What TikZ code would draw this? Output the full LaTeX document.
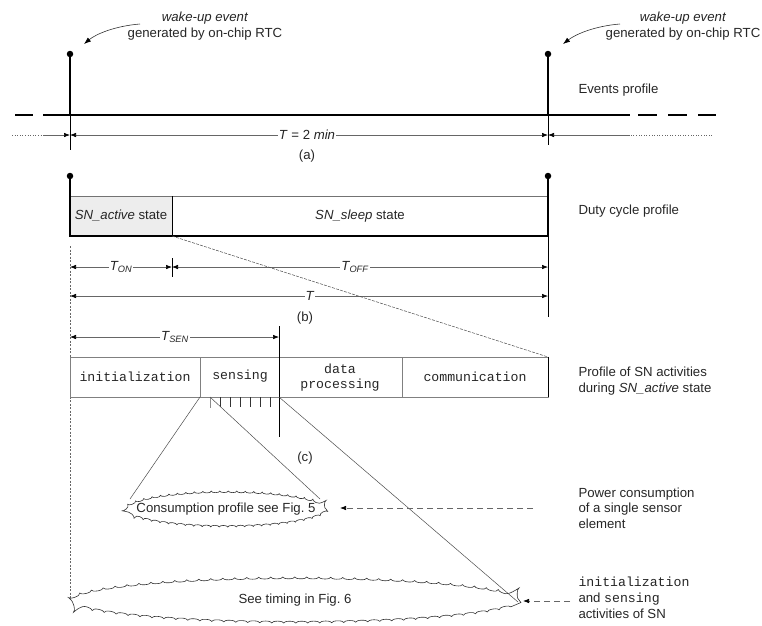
\documentclass[tikz,border=0pt]{standalone}
\usepackage{fontspec}
\setmainfont{Liberation Sans}
\newfontfamily\cour{Liberation Mono}
\usetikzlibrary{arrows.meta,shapes.geometric,decorations.pathmorphing}
\begin{document}
\begin{tikzpicture}[x=1pt,y=-1pt,
  font=\fontsize{13.2}{15.5}\selectfont,
  every node/.style={text=black!85},
  thickline/.style={line width=1.8pt, black},
  evdot/.style={circle, fill=black, inner sep=0pt, minimum size=6.5pt},
  dimline/.style={black!60, line width=0.6pt},
  tip/.style={-{Latex[length=6pt,width=4.5pt,color=black]}},
  tips/.style={{Latex[length=6pt,width=4.5pt,color=black]}-{Latex[length=6pt,width=4.5pt,color=black]}},
  lbl/.style={fill=white, inner sep=1pt},
  side/.style={anchor=west, align=left},
  thinline/.style={black!70, line width=0.5pt},
  fdash/.style={black!70, line width=0.5pt, dash pattern=on 3pt off 1.2pt},
  blob/.style={ellipse, draw=black!80, line width=0.6pt, inner sep=0pt, decorate, decoration={bumps, segment length=17pt, amplitude=1.6pt}},
  profbox/.style={draw=black!50, line width=0.8pt}
]
\useasboundingbox (0,0) rectangle (762,625);

% ---------- (a) events profile ----------
\node[evdot] (e1) at (70,54) {};
\node[evdot] (e2) at (548,54) {};
\coordinate (e1b) at (70,115);
\coordinate (e2b) at (548,115);
\draw[thickline] (e1.center) -- (e1b);
\draw[thickline] (e2.center) -- (e2b);
\coordinate (bl0) at (15,115); \coordinate (bl1) at (33,115);
\coordinate (bl2) at (43,115); \coordinate (bl3) at (630,115);
\coordinate (bl4) at (638,115); \coordinate (bl5) at (716,115);
\draw[thickline] (bl0) -- (bl1);
\draw[thickline] (bl2) -- (bl3);
\draw[thickline, dash pattern=on 19pt off 11pt] (bl4) -- (bl5);

\node[align=center] (w1) at (205,26) {\textit{wake-up event}\\generated by on-chip RTC};
\node[align=center] (w2) at (683,26) {\textit{wake-up event}\\generated by on-chip RTC};
\coordinate (w1s) at (140,24); \coordinate (w1e) at (84,44);
\coordinate (w2s) at (620,24); \coordinate (w2e) at (563,44);
\draw[black!80, line width=0.6pt, -{Latex[length=7pt,width=5pt,color=black]}] (w1s) .. controls (115,26) and (96,34) .. (w1e);
\draw[black!80, line width=0.6pt, -{Latex[length=7pt,width=5pt,color=black]}] (w2s) .. controls (595,26) and (576,34) .. (w2e);
\node[side] (evp) at (575,90) {Events profile};

% dimension (a)
\coordinate (ta0) at (70,150); \coordinate (ta1) at (548,145);
\draw[thinline, black] (e1b) -- (ta0);
\draw[thinline, black] (e2b) -- (ta1);
\coordinate (da0) at (12,135); \coordinate (da1) at (43,135);
\coordinate (da2) at (70,135); \coordinate (da3) at (548,135);
\coordinate (da4) at (630,135); \coordinate (da5) at (712,135);
\draw[dimline, dotted] (da0) -- (da1);
\draw[dimline, tip] (da1) -- (da2);
\draw[dimline, tips] (da2) -- (da3);
\draw[dimline, tip] (da4) -- (da3);
\draw[dimline, dotted] (da5) -- (da4);
\node[lbl] (tlab) at (307,135) {\textit{T} = 2 \textit{min}};
\node (la) at (307,156) {(a)};

% ---------- (b) duty cycle ----------
\node[evdot] (d1) at (70,176) {};
\node[evdot] (d2) at (548,176) {};
\coordinate (bx0) at (70,196); \coordinate (bx1) at (172,196); \coordinate (bx2) at (548,196);
\coordinate (by0) at (70,236); \coordinate (by1) at (172,236); \coordinate (by2) at (548,236);
\fill[black!7] (bx0) rectangle (by1);
\draw[black!55, line width=0.8pt] (bx0) -- (bx2);
\draw[black, line width=0.8pt] (bx1) -- (by1);
\draw[thickline] (d1.center) -- (by0) -- (by2) -- (d2.center);
\node (act) at (121,216) {\textit{SN\_active} state};
\node (slp) at (360,216) {\textit{SN\_sleep} state};
\node[side] (dcp) at (575,211) {Duty cycle profile};

\coordinate (vd0) at (70,246); \coordinate (vd1) at (70,598);
\draw[black!60, line width=0.6pt, dash pattern=on 2pt off 1.5pt] (vd0) -- (vd1);

\coordinate (on0) at (70,267); \coordinate (on1) at (172,267); \coordinate (on2) at (548,267);
\coordinate (tk0) at (172,258); \coordinate (tk1) at (172,277);
\draw[black, line width=0.6pt] (tk0) -- (tk1);
\draw[dimline, tips] (on0) -- (on1);
\draw[dimline, tips] (on1) -- (on2);
\node[lbl] (ton) at (121,267) {\textit{T\textsubscript{ON}}};
\node[lbl] (toff) at (355,267) {\textit{T\textsubscript{OFF}}};

\coordinate (tt0) at (70,296); \coordinate (tt1) at (548,296);
\draw[dimline, tips] (tt0) -- (tt1);
\node[lbl] (tT) at (310,296) {\textit{T}};
\coordinate (rv1) at (548,317);
\draw[black, line width=0.6pt] (by2) -- (rv1);
\node (lb) at (305,318) {(b)};

\coordinate (pb0) at (70,357); \coordinate (pb1) at (548,357);
\coordinate (pb2) at (70,397); \coordinate (pb3) at (548,397);
\draw[fdash] (by1) -- (pb1);

% ---------- (c) activities ----------
\coordinate (ts0) at (70,337); \coordinate (ts1) at (279,337);
\draw[dimline, tips] (ts0) -- (ts1);
\node[lbl] (tsen) at (175,337) {\textit{T\textsubscript{SEN}}};

\draw[profbox] (pb0) rectangle (pb3);
\coordinate (dv1a) at (200,357); \coordinate (dv1b) at (200,397);
\coordinate (dv3a) at (402,357); \coordinate (dv3b) at (402,397);
\draw[profbox] (dv1a) -- (dv1b);
\draw[profbox] (dv3a) -- (dv3b);
\draw[black, line width=0.8pt] (pb1) -- (pb3);
\coordinate (sv0) at (279,326); \coordinate (sv1) at (279,437); \coordinate (sv2) at (279,397);
\draw[black, line width=0.8pt] (sv0) -- (sv1);

\node (a1) at (135,377) {\cour initialization};
\node (a2) at (240,376) {\cour sensing};
\node[align=center, font=\cour\fontsize{13.2}{15}\selectfont] (a3) at (340,378) {data\\processing};
\node (a4) at (475,377) {\cour communication};
\draw[black!45, line width=0.7pt] (210,397) coordinate (tkA0) -- (210,408) coordinate (tkB0);
\foreach \i in {1,...,6} {
  \coordinate (tkA\i) at (210+10*\i,397);
  \coordinate (tkB\i) at (210+10*\i,407);
  \draw[black!80, line width=0.7pt] (tkA\i) -- (tkB\i);
}
\node[side] (pfa) at (575,381) {Profile of SN activities\\during \textit{SN\_active} state};
\node (lc) at (305,458) {(c)};

% clouds
\node[blob, minimum width=200pt, minimum height=36pt] (c1) at (226,509) {};
\node (c1t) at (c1.center) {Consumption profile see Fig.~5};
\node[blob, minimum width=448pt, minimum height=46pt, decoration={bumps, segment length=24pt, amplitude=1.8pt}] (c2) at (295,600) {};
\node (c2t) at (c2.center) {See timing in Fig.~6};
\coordinate (c1l) at (130,499); \coordinate (c1r) at (320,499);
\coordinate (c2r) at (518,602);
\draw[thinline] (dv1b) -- (c1l);
\draw[thinline] (tkA0) -- (c1r);
\draw[thinline] (sv2) -- (c2r);

\coordinate (pa0) at (533,508); \coordinate (pa1) at (340,508);
\draw[black!60, line width=0.7pt, dash pattern=on 6pt off 4pt, -{Latex[length=6pt,width=4.5pt,color=black]}] (pa0) -- (pa1);
\node[side, font=\fontsize{13.2}{15.7}\selectfont] (pwr) at (575,508) {Power consumption\\of a single sensor\\element};

\coordinate (ia0) at (570,601); \coordinate (ia1) at (523,601);
\draw[black!60, line width=0.7pt, dash pattern=on 6pt off 4pt, -{Latex[length=6pt,width=4.5pt,color=black]}] (ia0) -- (ia1);
\node[side, font=\fontsize{13.2}{16}\selectfont] (ini) at (575,598) {{\cour initialization}\\and {\cour sensing}\\activities of SN};
\end{tikzpicture}
\end{document}
